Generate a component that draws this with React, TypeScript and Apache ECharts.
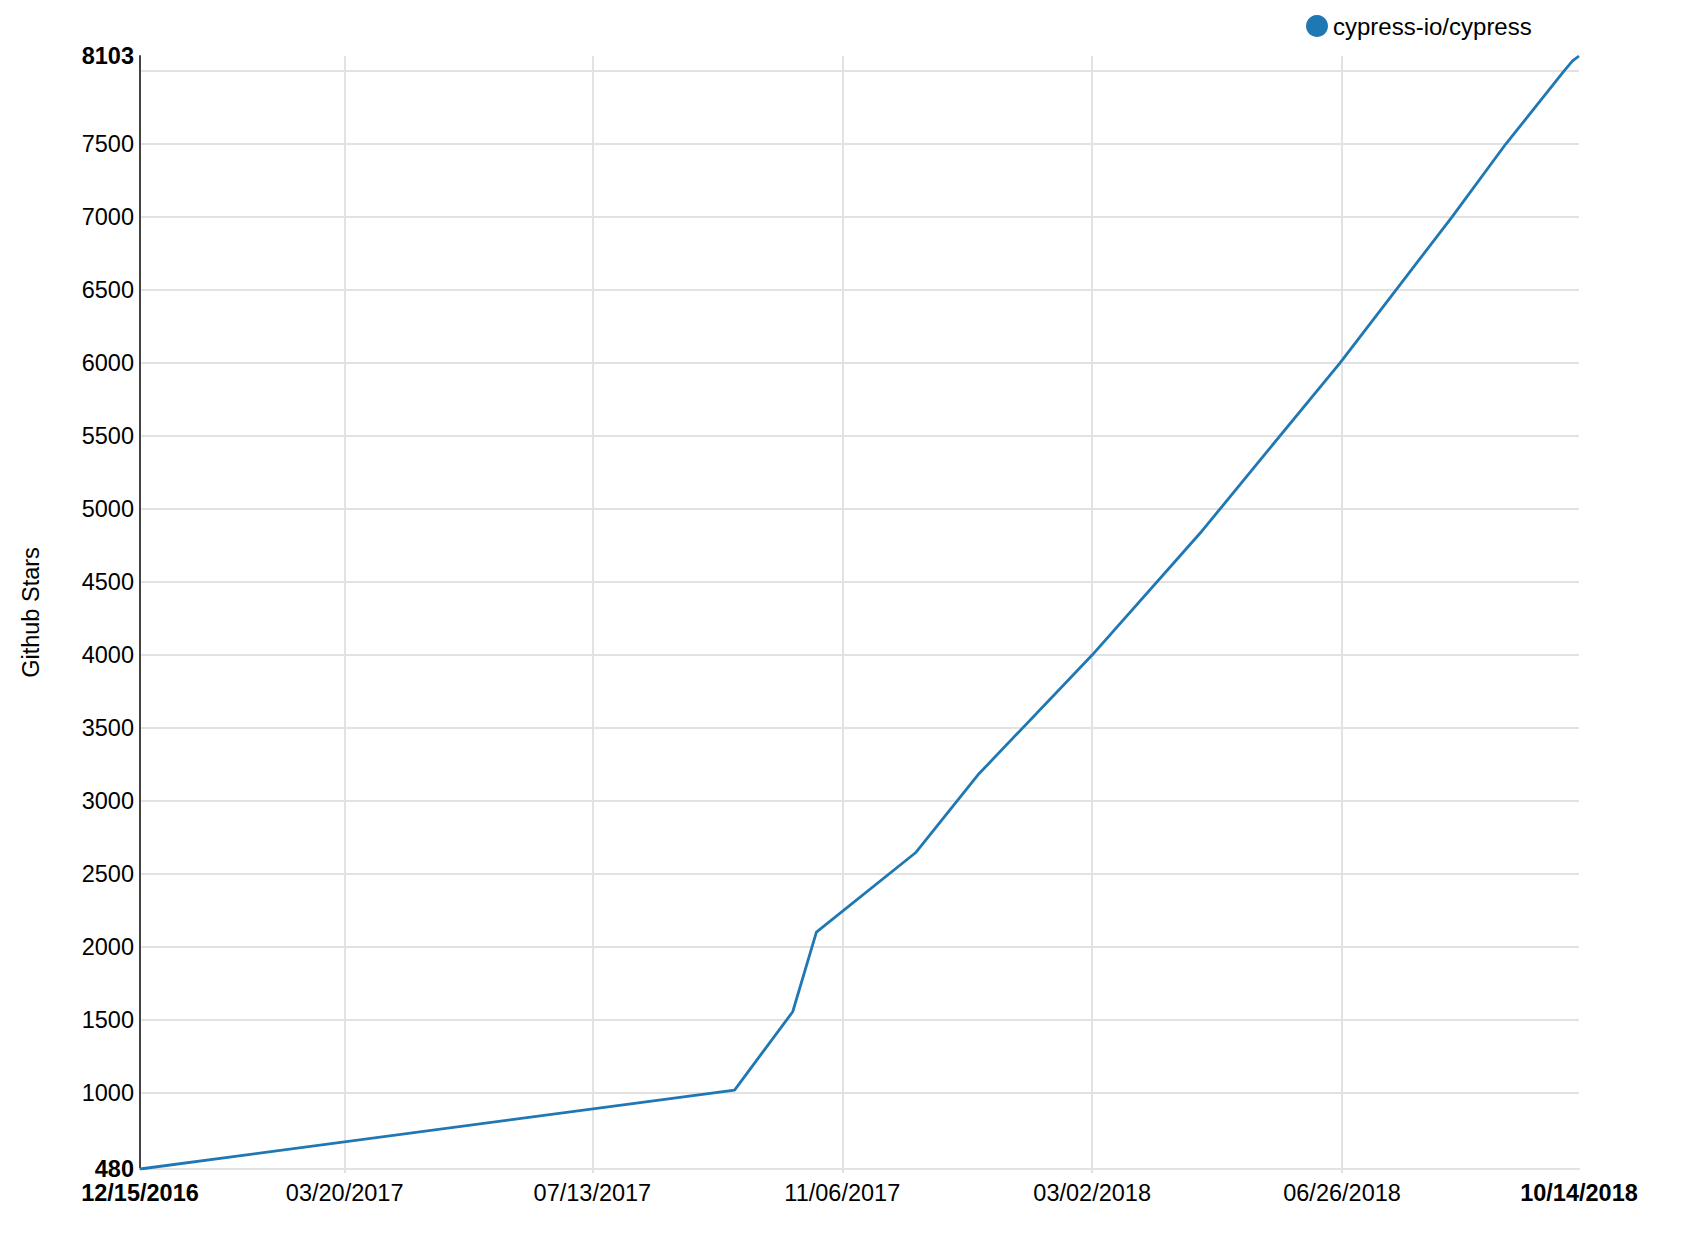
import React, { useEffect, useRef } from "react";
import * as echarts from "echarts";

const seriesName = "cypress-io/cypress";
const yAxisName = "Github Stars";

const dates = [
  "2016-12-15", "2017-09-17", "2017-10-14", "2017-10-25", "2017-12-10",
  "2018-01-08", "2018-03-02", "2018-04-22", "2018-05-22", "2018-06-25",
  "2018-07-21", "2018-08-16", "2018-09-10", "2018-10-07", "2018-10-11",
  "2018-10-14",
];
const stars = [
  480, 1020, 1557, 2103, 2646,
  3180, 4000, 4850, 5390, 6000,
  6500, 7000, 7500, 8000, 8070,
  8103,
];

const xTickLabels = [
  "12/15/2016", "03/20/2017", "07/13/2017", "11/06/2017",
  "03/02/2018", "06/26/2018", "10/14/2018",
];
const yMin = 480;
const yMax = 8103;
const yGridValues = [1000, 1500, 2000, 2500, 3000, 3500, 4000, 4500, 5000, 5500, 6000, 6500, 7000, 7500, 8000];
const yLabelValues = [480, 1000, 1500, 2000, 2500, 3000, 3500, 4000, 4500, 5000, 5500, 6000, 6500, 7000, 7500, 8103];

const FONT = "'Liberation Sans', Arial, Helvetica, sans-serif";
const FS = 23.5;

function isoToMs(s: string): number {
  const [y, m, d] = s.split("-").map(Number);
  return Date.UTC(y, m - 1, d);
}
function usToMs(s: string): number {
  const [m, d, y] = s.split("/").map(Number);
  return Date.UTC(y, m - 1, d);
}

export default function App() {
  const ref = useRef<HTMLDivElement>(null);

  useEffect(() => {
    document.body.style.margin = "0";
    if (!ref.current) return;
    const chart = echarts.init(ref.current, undefined, { renderer: "svg" });

    const xTickMs = xTickLabels.map(usToMs);
    const xMin = xTickMs[0];
    const xMax = xTickMs[xTickMs.length - 1];
    const xInner = xTickMs.slice(1, -1);
    const data = dates.map((d, i) => [isoToMs(d), stars[i]]);

    const grid = "#e2e2e2";
    const rich = {
      b: { fontFamily: FONT, fontSize: FS, fontWeight: "bold", color: "#000" },
      n: { fontFamily: FONT, fontSize: FS, color: "#000" },
    };

    chart.setOption({
      animation: false,
      backgroundColor: "#fff",
      textStyle: { fontFamily: FONT },
      legend: {
        left: 1306,
        top: 14,
        icon: "circle",
        itemWidth: 22,
        itemHeight: 22,
        itemGap: 5,
        padding: 0,
        textStyle: { fontFamily: FONT, fontSize: 24, color: "#000" },
        data: [seriesName],
      },
      grid: { left: 140, right: 111, top: 56, bottom: 73, containLabel: false },
      xAxis: {
        type: "value",
        min: xMin,
        max: xMax,
        axisLine: { show: true, lineStyle: { color: grid, width: 2 } },
        axisTick: {
          show: true,
          length: 4,
          customValues: xInner,
          lineStyle: { color: grid, width: 2 },
        },
        axisLabel: {
          customValues: xTickMs,
          margin: 12,
          hideOverlap: false,
          formatter: (v: number) => {
            const i = xTickMs.findIndex((t) => Math.abs(t - v) < 1000);
            const s = i >= 0 ? xTickLabels[i] : "";
            return i === 0 || i === xTickMs.length - 1 ? `{b|${s}}` : `{n|${s}}`;
          },
          rich,
        },
        splitLine: { show: true, lineStyle: { color: grid, width: 2 } },
      },
      yAxis: {
        type: "value",
        min: yMin,
        max: yMax,
        name: yAxisName,
        nameLocation: "middle",
        nameGap: 97,
        nameTextStyle: { fontFamily: FONT, fontSize: FS, color: "#000" },
        axisLine: { show: true, lineStyle: { color: "#444", width: 2 } },
        axisTick: { show: false, customValues: yGridValues },
        axisLabel: {
          customValues: yLabelValues,
          margin: 6,
          hideOverlap: false,
          formatter: (v: number) =>
            v === yMin || v === yMax ? `{b|${v}}` : `{n|${v}}`,
          rich,
        },
        splitLine: { show: true, lineStyle: { color: grid, width: 2 } },
      },
      series: [
        {
          name: seriesName,
          type: "line",
          data,
          showSymbol: false,
          symbol: "none",
          color: "#1f77b4",
          lineStyle: { color: "#1f77b4", width: 2.8 },
          itemStyle: { color: "#1f77b4" },
        },
      ],
    });

    return () => chart.dispose();
  }, []);

  return (
    <div
      ref={ref}
      style={{ position: "absolute", left: 0, top: 0, width: 1690, height: 1242 }}
    />
  );
}
